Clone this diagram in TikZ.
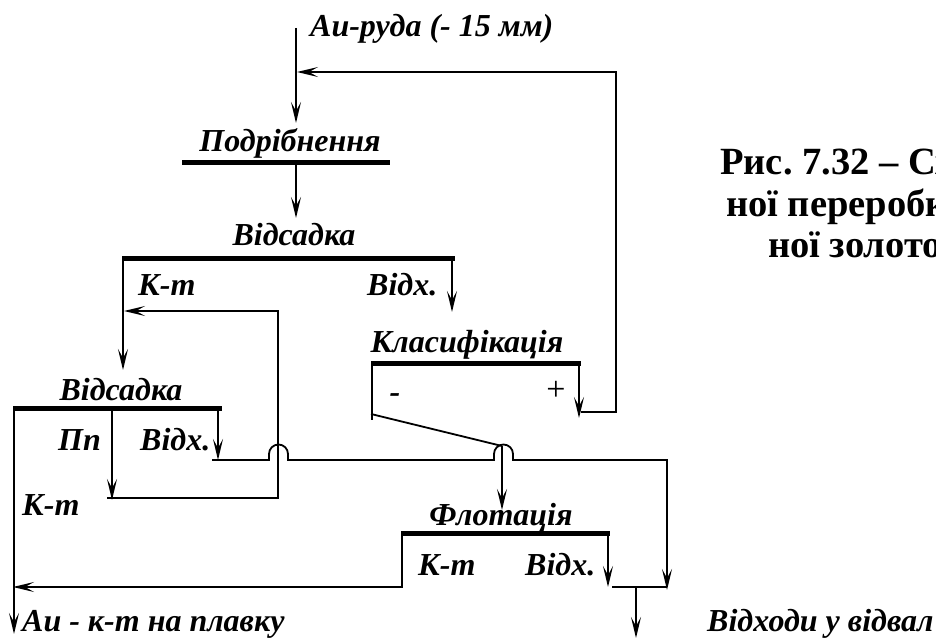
\documentclass[tikz,border=0pt]{standalone}
\usepackage{fontspec}
\setmainfont{Liberation Serif}
\usetikzlibrary{arrows.meta}
\frenchspacing
\tikzset{
  ln/.style={line width=1.8pt},
  bar/.style={line width=5pt},
  arr/.style={ln,-{Stealth[length=21pt,width=10pt,inset=9pt]}},
  lbl/.style={inner sep=0pt,font=\bfseries\itshape\fontsize{32}{34}\selectfont},
  captext/.style={inner sep=0pt,anchor=base west,font=\bfseries\fontsize{38.5}{42}\selectfont},
}
\begin{document}
\begin{tikzpicture}[x=1pt,y=-1pt]
\clip (0,0) rectangle (936,639);
\useasboundingbox (0,0) rectangle (936,639);
% ---------- coordinates ----------
\coordinate (feedTop) at (296,28);
\coordinate (feedEnd) at (296,123);
\coordinate (recJoin) at (297,72);
\coordinate (recTop) at (616,72);
\coordinate (recBot) at (616,412);
\coordinate (clRin) at (581,412);
\coordinate (crL) at (182,163);
\coordinate (crR) at (390,163);
\coordinate (crOut) at (296,165);
\coordinate (j1In) at (296,218);
\coordinate (j1L) at (122,258);
\coordinate (j1R) at (455,258);
\coordinate (j1Cout) at (123,370);
\coordinate (j1Tout) at (452,312);
\coordinate (clL) at (371,363);
\coordinate (clR) at (581,363);
\coordinate (clMinus) at (372,420);
\coordinate (clPlus) at (579,418);
\coordinate (diagA) at (371,414);
\coordinate (diagB) at (502,446);
\coordinate (flIn) at (502,510);
\coordinate (j2L) at (13,408);
\coordinate (j2R) at (222,408);
\coordinate (j2Cout) at (14,634);
\coordinate (j2Pout) at (112,500);
\coordinate (j2Tout) at (218,460);
\coordinate (loopA) at (107,498);
\coordinate (loopB) at (278,498);
\coordinate (loopC) at (278,311);
\coordinate (loopEnd) at (124,311);
\coordinate (tA) at (212,460);
\coordinate (tB) at (667,460);
\coordinate (tEnd) at (667,590);
\coordinate (flL) at (401,533);
\coordinate (flR) at (610,533);
\coordinate (flCout) at (402,587);
\coordinate (concEnd) at (13,587);
\coordinate (flTout) at (608,587);
\coordinate (wA) at (612,587);
\coordinate (wB) at (667,587);
\coordinate (wTop) at (636,587);
\coordinate (wEnd) at (636,638);
% ---------- bars ----------
\draw[bar] (crL) -- (crR);
\draw[bar] (j1L) -- (j1R);
\draw[bar] (clL) -- (clR);
\draw[bar] (j2L) -- (j2R);
\draw[bar] (flL) -- (flR);
% ---------- flows ----------
\draw[arr] (feedTop) -- (feedEnd);
\draw[arr] (clRin) -- (recBot) -- (recTop) -- (recJoin);
\draw[arr] (crOut) -- (j1In);
\draw[arr] (j1L -| j1Cout) -- (j1Cout);
\draw[arr] (j1Tout |- j1R) -- (j1Tout);
\draw[ln] (clL -| clMinus) -- (clMinus);
\draw[arr] (clPlus |- clR) -- (clPlus);
\draw[ln] (diagA) -- (diagB);
\draw[arr] (diagB) -- (flIn);
\draw[arr] (j2L -| j2Cout) -- (j2Cout);
\draw[arr] (j2Pout |- j2L) -- (j2Pout);
\draw[arr] (j2Tout |- j2L) -- (j2Tout);
\draw[arr] (loopA) -- (loopB) -- (loopC) -- (loopEnd);
\draw[arr] (tA) -- (269,460) -- (269,454) arc[start angle=180,end angle=360,radius=9.5] -- (288,460)
  -- (494,460) -- (494,454) arc[start angle=180,end angle=360,radius=9.5] -- (513,460) -- (tB) -- (tEnd);
\draw[arr] (flCout |- flL) -- (flCout) -- (concEnd);
\draw[arr] (flTout |- flL) -- (flTout);
\draw[ln] (wA) -- (wB);
\draw[arr] (wTop) -- (wEnd);
% ---------- labels ----------
\node[lbl,anchor=base west] (tFeed) at (310,37) {Au-руда (- 15 мм)};
\node[lbl,anchor=base] (tCrush) at (290,152) {Подрібнення};
\node[lbl,anchor=base] (tJig1) at (294,245) {Відсадка};
\node[lbl,anchor=base west] (tJ1c) at (138,295) {К-т};
\node[lbl,anchor=base west] (tJ1t) at (367,295) {Відх.};
\node[lbl,anchor=base] (tCl) at (467,352) {Класифікація};
\node[lbl,anchor=center] (tMinus) at (395,398) {-};
\node[inner sep=0pt,anchor=center,font=\fontsize{34}{36}\selectfont] (tPlus) at (556,391) {+};
\node[lbl,anchor=base] (tJig2) at (121,400) {Відсадка};
\node[lbl,anchor=base west] (tJ2p) at (58,450) {Пп};
\node[lbl,anchor=base west] (tJ2t) at (140,450) {Відх.};
\node[lbl,anchor=base west] (tJ2c) at (22,515) {К-т};
\node[lbl,anchor=base] (tFl) at (501,525) {Флотація};
\node[lbl,anchor=base west] (tFlc) at (418,575) {К-т};
\node[lbl,anchor=base west] (tFlt) at (525,575) {Відх.};
\node[lbl,anchor=base west] (tConc) at (22,631) {Au - к-т на плавку};
\node[lbl,anchor=base west] (tWaste) at (707,631) {Відходи у відвал};
% ---------- caption ----------
\node[captext] (c1) at (720,175) {Рис. 7.32 – Сх};
\node[captext] (c2) at (726,216) {ної переробк};
\node[captext] (c3) at (768,257) {ної золото};
\end{tikzpicture}
\end{document}
